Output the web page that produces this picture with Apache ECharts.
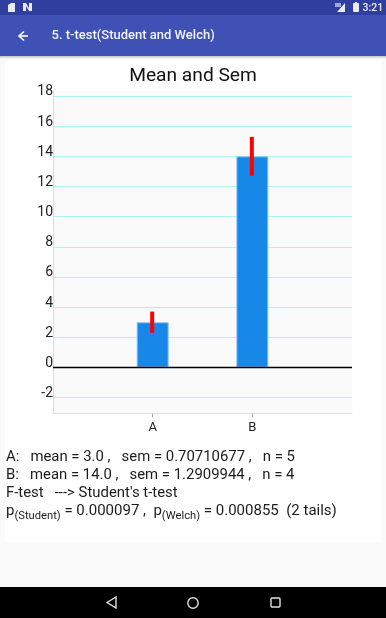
<!DOCTYPE html>
<html>
<head>
<meta charset="utf-8">
<style>html,body{margin:0;padding:0;background:#fafafa}#c{width:386px;height:618px}</style>
<script src="https://cdn.jsdelivr.net/npm/echarts@6/dist/echarts.min.js"></script>
</head>
<body>
<div id="c"></div>
<script>
const categories = ['', 'A', 'B', ''];
const means = [null, 3.0, 14.0, null];
const sems = [null, 0.70710677, 1.2909944, null];
const yTicks = [-2, 0, 2, 4, 6, 8, 10, 12, 14, 16, 18];
const infoLines = [
  'A:   mean = 3.0 ,   sem = 0.70710677 ,   n = 5',
  'B:   mean = 14.0 ,   sem = 1.2909944 ,   n = 4',
  "F-test   ---> Student's t-test"
];
const pLine = '{t|p}{s|(Student)}{t| = 0.000097 ,  p}{s|(Welch)}{t| = 0.000855  (2 tails)}';
const font = 'Roboto';

const chart = echarts.init(document.getElementById('c'), null, {width: 386, height: 618});
const txt = (x, y, text, size, fill, extra) => ({
  type: 'text', x, y, silent: true,
  style: Object.assign({text, fontFamily: font, fontSize: size, fill, verticalAlign: 'middle'}, extra || {})
});
const behindItems = [
  {type: 'rect', shape: {x: 5, y: 61, width: 376, height: 481}, style: {fill: '#ffffff'}},
  {type: 'rect', shape: {x: 0, y: 56, width: 386, height: 3}, style: {fill: {type: 'linear', x: 0, y: 0, x2: 0, y2: 1, colorStops: [{offset: 0, color: 'rgba(0,0,0,0.22)'}, {offset: 1, color: 'rgba(0,0,0,0)'}]}}},
  {type: 'rect', shape: {x: 0, y: 15, width: 386, height: 41}, style: {fill: '#3F51B5'}},
  {type: 'rect', shape: {x: 0, y: 0, width: 386, height: 15}, style: {fill: '#303F9F'}},
  {type: 'rect', shape: {x: 0, y: 587, width: 386, height: 31}, style: {fill: '#000000'}}
].map(e => Object.assign(e, {silent: true, z: -10}));
const frontItems = [
  // status bar icons
  {type: 'polygon', shape: {points: [[8, 5], [11, 3], [15, 3], [15, 12], [8, 12]]}, style: {fill: '#e8eaf6'}},
  {type: 'polygon', shape: {points: [[23, 3], [26, 3], [29, 8], [29, 3], [32, 3], [32, 11], [29, 11], [26, 6], [26, 11], [23, 11]]}, style: {fill: '#e8eaf6'}},
  {type: 'polygon', shape: {points: [[345, 3], [345, 12], [337, 12]]}, style: {fill: '#e8eaf6'}},
  {type: 'rect', shape: {x: 335, y: 3, width: 6, height: 4}, style: {fill: '#9fa8da'}},
  {type: 'rect', shape: {x: 353, y: 3, width: 6, height: 9, r: 1}, style: {fill: '#e8eaf6'}},
  {type: 'rect', shape: {x: 355, y: 2, width: 2, height: 1}, style: {fill: '#e8eaf6'}},
  txt(362.5, 8.5, '3:21', 10.5, '#e8eaf6', {fontWeight: 500}),
  // app bar
  {type: 'polyline', shape: {points: [[28, 36], [19, 36]]}, style: {stroke: '#fff', lineWidth: 1.6, fill: null}},
  {type: 'polyline', shape: {points: [[24, 31.5], [19, 36], [24, 40.5]]}, style: {stroke: '#fff', lineWidth: 1.6, fill: null}},
  txt(51.5, 36, '5. t-test(Student and Welch)', 13, '#f3f4fb', {fontWeight: 500}),
  // info text
  ...infoLines.map((l, i) => txt(6, 457 + i * 18, l, 14.9, '#1c1c1c')),
  {type: 'text', x: 6, y: 513, silent: true, style: {
    text: pLine, fontFamily: font, verticalAlign: 'middle',
    rich: {
      t: {fontFamily: font, fontSize: 15, fill: '#1c1c1c', verticalAlign: 'top', lineHeight: 18, padding: [0, 0, 5, 0]},
      s: {fontFamily: font, fontSize: 11.2, fill: '#1c1c1c', verticalAlign: 'bottom', lineHeight: 18, padding: [5, 0, 0, 0]}
    }
  }},
  // navigation bar
  {type: 'polygon', shape: {points: [[116, 597], [116, 608], [107, 602.5]]}, style: {stroke: '#e0e0e0', lineWidth: 1.4, fill: null}},
  {type: 'circle', shape: {cx: 193, cy: 603, r: 5.2}, style: {stroke: '#e0e0e0', lineWidth: 1.4, fill: null}},
  {type: 'rect', shape: {x: 271, y: 598, width: 9, height: 9, r: 1}, style: {stroke: '#e0e0e0', lineWidth: 1.4, fill: null}}
].map(e => Object.assign(e, {silent: true, z: 100}));

chart.setOption({
  animation: false,
  backgroundColor: '#fafafa',
  title: {text: 'Mean and Sem', left: 'center', top: 62,
    textStyle: {fontFamily: font, fontSize: 19.2, fontWeight: 400, color: '#111'}},
  grid: {left: 53, top: 91, width: 299, height: 322.5, show: true, backgroundColor: '#fafafa', borderWidth: 0},
  xAxis: {
    type: 'category', data: categories, boundaryGap: false,
    axisLine: {onZero: false, lineStyle: {color: '#dddddd', width: 1}},
    axisTick: {length: 4, lineStyle: {color: '#aaaaaa'}, interval: (i, v) => v !== ''},
    axisLabel: {color: '#222', fontFamily: font, fontSize: 13, margin: 8, interval: 0},
    splitLine: {show: false}
  },
  yAxis: {
    type: 'value', min: -3.05, max: 18.33,
    axisLine: {show: true, lineStyle: {color: '#dddddd', width: 1}},
    axisTick: {show: false, customValues: yTicks},
    axisLabel: {customValues: yTicks, color: '#222', fontFamily: font, fontSize: 14, margin: 0,
      verticalAlign: 'bottom', lineHeight: 8, showMinLabel: true, showMaxLabel: true},
    splitLine: {show: true, lineStyle: {color: '#aaf4f4', width: 1}}
  },
  series: [
    {
      type: 'bar', data: means, barWidth: 32, z: 3,
      itemStyle: {color: '#1787E8', borderColor: '#8fc4f5', borderWidth: 1},
      markLine: {silent: true, symbol: 'none', label: {show: false}, animation: false,
        data: [{yAxis: 0}], lineStyle: {color: '#000', width: 1.4, type: 'solid'}}
    },
    {
      type: 'custom', z: 5,
      data: means.map((m, i) => m === null ? null : [i, m - sems[i], m + sems[i]]).filter(Boolean),
      encode: {x: 0, y: [1, 2]},
      renderItem: (params, api) => {
        const a = api.coord([api.value(0), api.value(1)]);
        const b = api.coord([api.value(0), api.value(2)]);
        return {type: 'line', shape: {x1: a[0] - 0.5, y1: a[1], x2: b[0] - 0.5, y2: b[1]},
          style: {stroke: '#FF0000', lineWidth: 4}};
      }
    }
  ],
  graphic: [...behindItems, ...frontItems]
});
</script>
</body>
</html>
